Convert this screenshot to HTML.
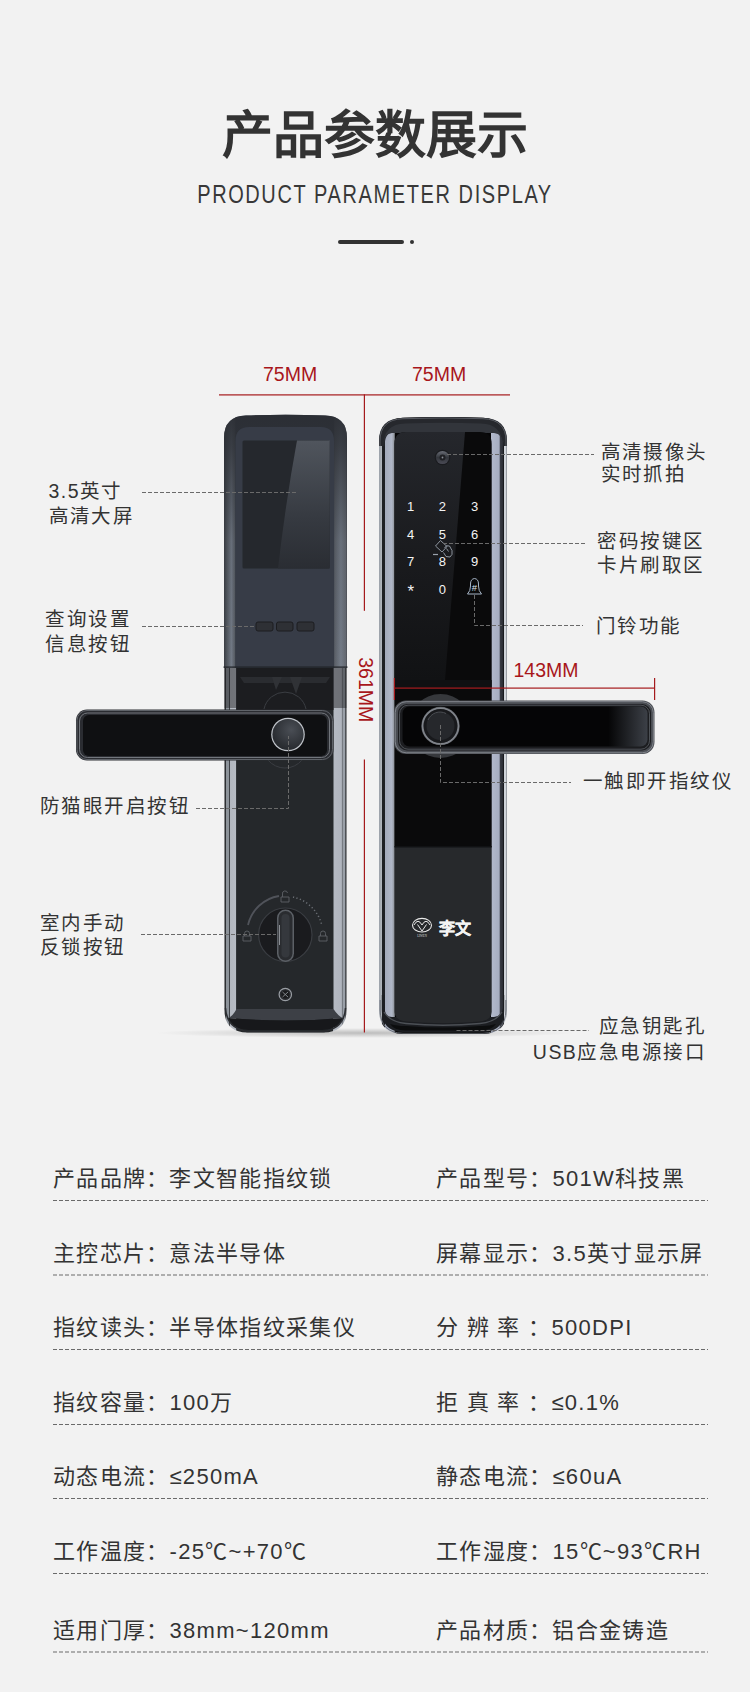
<!DOCTYPE html>
<html lang="zh-CN"><head><meta charset="utf-8">
<style>
html,body{margin:0;padding:0;}
body{width:750px;height:1692px;background:#f2f2f2;position:relative;overflow:hidden;font-family:"Liberation Sans",sans-serif;color:#333;}
.a{position:absolute;white-space:nowrap;line-height:1;}
.title{left:0;width:750px;top:111px;text-align:center;font-family:"Liberation Serif",serif;font-weight:bold;font-size:51px;color:#333;}
.sub{left:0;width:750px;top:181.5px;text-align:center;font-size:25px;letter-spacing:2px;color:#383838;transform:scaleX(0.80);}
.dim{font-size:19.5px;color:#a8161b;letter-spacing:0px;}
.key{font-size:13px;color:#f4f4f4;text-align:center;width:20px;}
svg{position:absolute;left:0;top:0;}

.lab{font-size:19.5px;letter-spacing:1.45px;line-height:1;color:#333;}
.row{font-size:22px;letter-spacing:1.3px;line-height:1;color:#333;}

</style></head><body>
<div class="a title">产品参数展示</div>
<div class="a sub">PRODUCT PARAMETER DISPLAY</div>
<svg width="750" height="1692" viewBox="0 0 750 1692">
<defs>
  <linearGradient id="lUp" gradientUnits="userSpaceOnUse" x1="224" x2="347" y1="0" y2="0">
    <stop offset="0" stop-color="#3a3d43"/>
    <stop offset="0.02" stop-color="#4e535a"/>
    <stop offset="0.06" stop-color="#727a86"/>
    <stop offset="0.09" stop-color="#555a61"/>
    <stop offset="0.095" stop-color="#373c47"/>
    <stop offset="0.89" stop-color="#373c47"/>
    <stop offset="0.9" stop-color="#5b6068"/>
    <stop offset="0.95" stop-color="#747c88"/>
    <stop offset="0.99" stop-color="#656a72"/>
    <stop offset="1" stop-color="#4a4d53"/>
  </linearGradient>
  <linearGradient id="lUpTop" x1="0" x2="0" y1="0" y2="1">
    <stop offset="0" stop-color="#2b2e34" stop-opacity="0.95"/>
    <stop offset="0.12" stop-color="#2b2e34" stop-opacity="0.8"/>
    <stop offset="0.5" stop-color="#2b2e34" stop-opacity="0.15"/>
    <stop offset="1" stop-color="#2b2e34" stop-opacity="0"/>
  </linearGradient>
  <linearGradient id="scrRefl" x1="0" x2="0" y1="0" y2="1">
    <stop offset="0" stop-color="#50555d"/>
    <stop offset="0.6" stop-color="#363a41"/>
    <stop offset="1" stop-color="#2a2d33"/>
  </linearGradient>
  <linearGradient id="lLow" gradientUnits="userSpaceOnUse" x1="224" x2="347" y1="0" y2="0">
    <stop offset="0" stop-color="#2a2c30"/>
    <stop offset="0.01" stop-color="#111214"/>
    <stop offset="0.02" stop-color="#8d939a"/>
    <stop offset="0.04" stop-color="#8d939a"/>
    <stop offset="0.045" stop-color="#3a3d42"/>
    <stop offset="0.05" stop-color="#b2b7bf"/>
    <stop offset="0.1" stop-color="#b7bcc4"/>
    <stop offset="0.102" stop-color="#25282b"/>
    <stop offset="0.886" stop-color="#25282b"/>
    <stop offset="0.89" stop-color="#b5bac3"/>
    <stop offset="0.955" stop-color="#b0b5be"/>
    <stop offset="0.96" stop-color="#2a2c30"/>
    <stop offset="0.965" stop-color="#9aa0a8"/>
    <stop offset="0.985" stop-color="#9aa0a8"/>
    <stop offset="0.99" stop-color="#111214"/>
    <stop offset="1" stop-color="#3a3d42"/>
  </linearGradient>
  <linearGradient id="rBody" gradientUnits="userSpaceOnUse" x1="379" x2="507" y1="0" y2="0">
    <stop offset="0" stop-color="#9aa0a8"/>
    <stop offset="0.02" stop-color="#b0b5bc"/>
    <stop offset="0.025" stop-color="#1e2024"/>
    <stop offset="0.047" stop-color="#1e2024"/>
    <stop offset="0.05" stop-color="#a3aabb"/>
    <stop offset="0.1" stop-color="#b0b7c7"/>
    <stop offset="0.12" stop-color="#8e939a"/>
    <stop offset="0.125" stop-color="#050506"/>
    <stop offset="0.875" stop-color="#050506"/>
    <stop offset="0.877" stop-color="#b2b9cb"/>
    <stop offset="0.94" stop-color="#a6adc0"/>
    <stop offset="0.945" stop-color="#3a3d45"/>
    <stop offset="0.97" stop-color="#2a2c33"/>
    <stop offset="0.975" stop-color="#0b0c0d"/>
    <stop offset="0.98" stop-color="#d0d4da"/>
    <stop offset="0.992" stop-color="#d0d4da"/>
    <stop offset="1" stop-color="#6a6e75"/>
  </linearGradient>
  <linearGradient id="handleRim" x1="0" x2="0" y1="0" y2="1">
    <stop offset="0" stop-color="#7d8188"/>
    <stop offset="0.12" stop-color="#45484e"/>
    <stop offset="0.88" stop-color="#3a3d42"/>
    <stop offset="1" stop-color="#6d7178"/>
  </linearGradient>
  <linearGradient id="hInnerR" x1="0" x2="1" y1="0" y2="0">
    <stop offset="0" stop-color="#050506"/>
    <stop offset="0.84" stop-color="#050506"/>
    <stop offset="1" stop-color="#3c4047"/>
  </linearGradient>
  <radialGradient id="knobL" cx="0.6" cy="0.35" r="0.8">
    <stop offset="0" stop-color="#4a4e55"/>
    <stop offset="1" stop-color="#1f2226"/>
  </radialGradient>
  <radialGradient id="shadow" cx="0.5" cy="0.5" r="0.5">
    <stop offset="0" stop-color="#000" stop-opacity="0.22"/>
    <stop offset="1" stop-color="#000" stop-opacity="0"/>
  </radialGradient>
  <linearGradient id="glassL" x1="0" x2="0" y1="0" y2="1">
    <stop offset="0" stop-color="#25272c"/>
    <stop offset="0.5" stop-color="#1a1b1e"/>
    <stop offset="1" stop-color="#111214"/>
  </linearGradient>
  <linearGradient id="camG" x1="0" x2="0" y1="0" y2="1">
    <stop offset="0" stop-color="#6a6e77"/>
    <stop offset="0.5" stop-color="#34373d"/>
    <stop offset="1" stop-color="#4a4a55"/>
  </linearGradient>
</defs>
  <rect x="338" y="240" width="66" height="4" rx="2" fill="#333"/>
  <circle cx="412" cy="242" r="2" fill="#333"/>

  <!-- floor shadow -->
  <ellipse cx="365" cy="1033" rx="210" ry="5" fill="url(#shadow)"/>

  <!-- ============ LEFT LOCK ============ -->
  <path d="M224,668 L224,438 Q224,416 246,415.5 Q285.5,414 325,415.5 Q347,416 347,438 L347,668 Z" fill="url(#lUp)"/>
  <path d="M224,668 L224,438 Q224,416 246,415.5 Q285.5,414 325,415.5 Q347,416 347,438 L347,668 Z" fill="url(#lUpTop)"/>
  <path d="M235.5,668 L235.5,441 Q235.5,427 249,427 L321,427 Q334,427 334,441 L334,668 Z" fill="#373c47"/>
  <!-- screen -->
  <rect x="242.5" y="440.5" width="87.2" height="128" rx="1.5" fill="#25282d"/>
  <path d="M297,440.5 L329.7,440.5 L329.7,568.5 L278,568.5 Q286,500 297,440.5 Z" fill="url(#scrRefl)"/>
  <!-- buttons -->
  <rect x="256" y="622" width="17" height="9" rx="2" fill="#2e3035" stroke="#1c1d20" stroke-width="1"/>
  <rect x="276.5" y="622" width="16.5" height="9" rx="2" fill="#2e3035" stroke="#1c1d20" stroke-width="1"/>
  <rect x="297" y="622" width="17" height="9" rx="2" fill="#2e3035" stroke="#1c1d20" stroke-width="1"/>
  <rect x="223.5" y="666.5" width="124" height="1.2" fill="#1f2125"/>
  <!-- lower body -->
  <path d="M224.5,668 L346.5,668 L346.5,1010 Q346.5,1032 324,1032.5 L247,1032.5 Q224.5,1032 224.5,1010 Z" fill="url(#lLow)"/>
  <rect x="236.5" y="668" width="97" height="341" fill="#25282b"/>
  <!-- bottom bevel -->
  <path d="M236.5,1009 L333.5,1009 Q338,1016 343,1018 Q285,1023 228,1018 Q233,1016 236.5,1009 Z" fill="#3d4046"/>
  <path d="M228,1018 Q285,1023 343,1018 Q340,1029 322,1030 L249,1030 Q231,1029 228,1018 Z" fill="#17181b"/>
  <path d="M225.5,1008 Q226.5,1028 247,1031.5 L324,1031.5 Q344.5,1028 345.5,1008" fill="none" stroke="#2a2c30" stroke-width="1.5"/>
  <!-- mechanism top -->
  <rect x="236.5" y="668" width="97" height="42" fill="#1c1d20"/>
  <path d="M240,677 L330,677 L326,683 L244,683 Z" fill="#2a2c30"/>
  <path d="M272,677 L282,677 L276,690 Z M290,677 L302,677 L296,694 Z" fill="#303236"/>
  <path d="M264,709 A21.5,21.5 0 0 1 306,709" fill="none" stroke="#3a3d42" stroke-width="1"/>
  <rect x="224.5" y="668" width="12" height="40" fill="#1c1d20" opacity="0.45"/>
  <rect x="333.5" y="668" width="13" height="40" fill="#1c1d20" opacity="0.45"/>
  <!-- boss arcs below handle -->
  <path d="M268,760 A22,22 0 0 0 302,760" fill="none" stroke="#3a3d42" stroke-width="1"/>
  <!-- handle -->
  <rect x="76" y="709.5" width="257.5" height="51" rx="11" fill="#2a2c31"/>
  <rect x="77" y="710.5" width="255.5" height="49" rx="10" fill="none" stroke="#6d7177" stroke-width="0.8"/>
  <rect x="79.5" y="713" width="250" height="44.5" rx="8" fill="none" stroke="#85898f" stroke-width="0.8"/>
  <rect x="83" y="715" width="244" height="41" rx="6" fill="#0f1012"/>
  <circle cx="288" cy="734.5" r="16.8" fill="#c0c4ca"/>
  <circle cx="288" cy="734.5" r="15.6" fill="url(#knobL)"/>
  <!-- thumb turn -->
  <path d="M248,925 A38,38 0 0 1 279,896" fill="none" stroke="#50535a" stroke-width="1.8"/>
  <path d="M293,897 A38,38 0 0 1 322,926" fill="none" stroke="#6a6e74" stroke-width="1.5" stroke-dasharray="1.2,2.4"/>
  <circle cx="285.3" cy="934.7" r="26.7" fill="#1a1b1e" stroke="#3a3d42" stroke-width="1.2"/>
  <rect x="277" y="909.5" width="17" height="52.5" rx="8.5" fill="#5c6066"/>
  <rect x="278.5" y="911" width="14" height="49.5" rx="7" fill="#2a2c30"/>
  <rect x="281.5" y="914" width="8" height="43.5" rx="4" fill="#35383d"/>
  <path d="M279.5,925 L279.5,945" stroke="#8a8e94" stroke-width="1"/>
  <g fill="none" stroke="#5d6167" stroke-width="0.9">
  <path d="M243,936 h8 v5 h-8 z M244.5,936 v-2.5 a2.5,2.5 0 0 1 5,0 v2.5"/>
  <path d="M319,936 h8 v5 h-8 z M320.5,936 v-2.5 a2.5,2.5 0 0 1 5,0 v2.5"/>
  <path d="M281,897 h8 v5 h-8 z M282.5,897 v-3 a2.5,2.5 0 0 1 5,-1"/>
  </g>
  <!-- screw -->
  <circle cx="285.3" cy="994.5" r="6.2" fill="#2a2c30" stroke="#9a9ea4" stroke-width="1.2"/>
  <circle cx="285.3" cy="994.5" r="4" fill="#1a1b1d"/>
  <path d="M282.5,992 L288,997 M288,992 L282.5,997" stroke="#8a8e94" stroke-width="0.9"/>

  <!-- ============ RIGHT LOCK ============ -->
  <path d="M379,1010 L379,441 Q379,419 403,417.8 Q443,416 483,417.8 Q507,419 507,441 L507,1010 Q507,1033 484,1034 L402,1034 Q379,1033 379,1010 Z" fill="url(#rBody)"/>
  <!-- top cap -->
  <path d="M379,446 L379,441 Q379,418.5 403,417.8 Q443,416 483,417.8 Q507,418.5 507,441 L507,446 L503.5,446 Q503,433 494,433 L392,433 Q385,433 384.5,446 Z" fill="#26282d"/>
  <path d="M380,446 L380,441 Q380,419.5 403,418.7 Q443,417.2 483,418.7 Q506,419.5 506,441 L506,446" fill="none" stroke="#5d6168" stroke-width="0.9"/>
  <path d="M383.5,446 Q383.5,424 405,423.5 Q443,422 481,423.5 Q502.5,424 502.5,446 Q502,433 494,433 L392,433 Q384,433 383.5,446 Z" fill="#32353b"/>
  <!-- glass -->
  <path d="M394.5,847 L394.5,444 Q394.5,432 406,432 L480,432 Q491.7,432 491.7,444 L491.7,847 Z" fill="#0a0a0b"/>
  <path d="M394.5,680 L394.5,444 Q394.5,432 406,432 L465,432 L445,680 Z" fill="url(#glassL)"/>
  <rect x="394.5" y="680" width="97.2" height="9" fill="#0f1012"/>
  <!-- camera -->
  <circle cx="442.5" cy="457.5" r="7.8" fill="#1a1b1f"/>
  <circle cx="442.5" cy="457.5" r="6.6" fill="url(#camG)"/>
  <circle cx="442.5" cy="457.5" r="3" fill="#1f2024"/>
  <circle cx="442.5" cy="457.5" r="0.9" fill="#8a8e96"/>
  <!-- card icon -->
  <g fill="none" stroke="#9aa2ac" stroke-width="0.9" stroke-linejoin="round" transform="translate(0,2)">
    <path d="M435.5,544 L440.5,538.5 L447,544.5 L442,550 Z"/>
    <path d="M444.5,546 Q446,542.5 449.5,544 L452,548.5 Q453,553 450,555 L446,554.5 L443.5,550.5"/>
    <path d="M446.5,546.5 l2,3"/>
  </g>
  <path d="M433,554.5 h5" stroke="#9aa2ac" stroke-width="1.2"/>
  <!-- bell -->
  <g fill="none" stroke="#a6b4c6" stroke-width="1">
  <path d="M467.5,594 Q470.5,591 470.5,586 L470.5,584 Q470.5,579 474.5,578.5 Q478.5,579 478.5,584 L478.5,586 Q478.5,591 481.5,594 Z"/>
  </g>
  <text x="474.5" y="591" font-size="9.5" fill="#dfe6ee" text-anchor="middle" font-family="Liberation Sans">#</text>
  <!-- lower panel -->
  <path d="M381.8,995 L381.8,1010 Q381.8,1031.5 403,1032 L483,1032 Q504.2,1031.5 504.2,1010 L504.2,995 L503.5,995 L503.5,1006 Q502,1017 494,1017 L392,1017 Q384,1017 384.8,1006 L384.8,995 Z" fill="#1c1e22"/>
  <path d="M394.5,847 L491.7,847 L491.7,1012 Q491.7,1020 480,1021.5 Q443,1025 406,1021.5 Q394.5,1020 394.5,1012 Z" fill="#27292c"/>
  <rect x="394.5" y="846" width="97.2" height="1.5" fill="#111214"/>
  <path d="M384,1012 Q390,1022 406,1023.5 Q443,1027 480,1023.5 Q496,1022 502,1012" fill="none" stroke="#4c5056" stroke-width="1.3"/>
  <path d="M390,1024 Q400,1026.5 406,1026 Q443,1029 480,1026 Q488,1026.5 496,1024 Q492,1030 480,1030.5 L406,1030.5 Q394,1030 390,1024 Z" fill="#0c0d0e"/>
  <path d="M380.2,1000 L380.2,1010 Q380.2,1032.8 403,1033.3 L483,1033.3 Q505.8,1032.8 505.8,1010 L505.8,1000" fill="none" stroke="#6a6e76" stroke-width="0.9"/>
  <!-- logo -->
  <g fill="none" stroke="#e8e8e8" stroke-width="1">
    <ellipse cx="422" cy="925.2" rx="9.5" ry="6.8" stroke-width="1.1"/>
    <path d="M414,925 Q418,917.5 422,925 Q426,917.5 430,925" stroke-width="1"/>
    <path d="M417.5,924.5 L422,931 L426.5,924.5" stroke-width="1"/>
  </g>
  <text x="422" y="937" font-size="3" fill="#ddd" text-anchor="middle" font-family="Liberation Serif">LIWEN</text>
  <text x="455" y="933.5" font-size="16" font-weight="bold" fill="#f4f4f4" stroke="#f4f4f4" stroke-width="0.35" text-anchor="middle" font-family="Liberation Sans">李文</text>
  <!-- handle boss -->
  <circle cx="440.5" cy="726" r="32" fill="#36383c"/>
  <!-- handle -->
  <rect x="394" y="700.5" width="260.5" height="53.5" rx="12" fill="#4a4d53"/>
  <rect x="395.2" y="701.7" width="258.1" height="51.1" rx="11" fill="none" stroke="#82868d" stroke-width="1"/>
  <rect x="398" y="704" width="253" height="46.5" rx="9" fill="#1c1d20"/>
  <rect x="399.5" y="705.2" width="250" height="44" rx="8.5" fill="none" stroke="#5a5e64" stroke-width="0.8"/>
  <rect x="402.5" y="706.5" width="245" height="40" rx="7" fill="url(#hInnerR)"/>
  <circle cx="440.5" cy="726" r="19.2" fill="#4a4d52"/>
  <circle cx="440.5" cy="726" r="17.8" fill="none" stroke="#7f838a" stroke-width="2"/>
  <circle cx="440.5" cy="726" r="17" fill="#18191c"/>
  <circle cx="440.5" cy="726" r="14" fill="#26282c"/>
  <path d="M428,720 A13,13 0 0 1 446,713.5" fill="none" stroke="#4a4d52" stroke-width="1"/>

  <!-- ============ DIMENSIONS ============ -->
  <g fill="#a51a1d">
    <rect x="219" y="394.3" width="291" height="1.2"/>
    <rect x="363.8" y="394.3" width="1.2" height="216.5"/>
    <rect x="363.8" y="759.5" width="1.2" height="273"/>
    <rect x="394" y="687.5" width="261" height="1.2"/>
    <rect x="393.8" y="678" width="1.2" height="22"/>
    <rect x="654" y="678" width="1.2" height="22"/>
  </g>
</svg>
<div class="a dim" style="left:263px;top:365px;">75MM</div>
<div class="a dim" style="left:412px;top:365px;">75MM</div>
<div class="a dim" style="left:513.5px;top:661px;">143MM</div>
<div class="a dim" style="left:332.5px;top:680px;transform:rotate(90deg);transform-origin:center;">361MM</div>
<div class="a key" style="left:400.7px;top:500px;">1</div>
<div class="a key" style="left:432.3px;top:500px;">2</div>
<div class="a key" style="left:464.6px;top:500px;">3</div>
<div class="a key" style="left:400.7px;top:527.5px;">4</div>
<div class="a key" style="left:432.3px;top:527.5px;">5</div>
<div class="a key" style="left:464.6px;top:527.5px;">6</div>
<div class="a key" style="left:400.7px;top:555px;">7</div>
<div class="a key" style="left:432.3px;top:555px;">8</div>
<div class="a key" style="left:464.6px;top:555px;">9</div>
<div class="a key" style="left:400.7px;top:583px;font-size:17px;">*</div>
<div class="a key" style="left:432.3px;top:582.5px;">0</div>
<svg width="750" height="1692" viewBox="0 0 750 1692">
<g stroke="#6a6a6a" stroke-width="1" stroke-dasharray="4,2" fill="none">
<line x1="53" y1="1200.5" x2="708" y2="1200.5"/>
<line x1="53" y1="1275" x2="708" y2="1275"/>
<line x1="53" y1="1349.5" x2="708" y2="1349.5"/>
<line x1="53" y1="1424.5" x2="708" y2="1424.5"/>
<line x1="53" y1="1498.5" x2="708" y2="1498.5"/>
<line x1="53" y1="1573.5" x2="708" y2="1573.5"/>
<line x1="53" y1="1652" x2="708" y2="1652"/>
<path d="M142,492.5 H298"/>
<path d="M142,626.5 H256"/>
<path d="M196,808.5 H288.5 V736"/>
<path d="M141,934.5 H276"/>
<path d="M447,454.5 H594"/>
<path d="M443,543.5 H585"/>
<path d="M474.5,595 V625.5 H583"/>
<path d="M440.5,725 V782.5 H571"/>
<path d="M456.5,1030.5 H589"/>
</g>
</svg>
<div class="a lab" style="left:48.5px;top:481.6px;">3.5英寸</div>
<div class="a lab" style="left:48.5px;top:506.8px;">高清大屏</div>
<div class="a lab" style="left:45.2px;top:609.5px;">查询设置</div>
<div class="a lab" style="left:45.2px;top:634.5px;">信息按钮</div>
<div class="a lab" style="left:40px;top:796.8px;">防猫眼开启按钮</div>
<div class="a lab" style="left:40px;top:914px;">室内手动</div>
<div class="a lab" style="left:40px;top:938px;">反锁按钮</div>
<div class="a lab" style="left:600.5px;top:443.2px;">高清摄像头</div>
<div class="a lab" style="left:600.5px;top:465px;">实时抓拍</div>
<div class="a lab" style="left:597.3px;top:531.8px;">密码按键区</div>
<div class="a lab" style="left:597.3px;top:556.4px;">卡片刷取区</div>
<div class="a lab" style="left:596px;top:617px;">门铃功能</div>
<div class="a lab" style="left:583px;top:772px;">一触即开指纹仪</div>
<div class="a lab" style="right:44px;top:1017px;">应急钥匙孔</div>
<div class="a lab" style="right:44px;top:1043px;">USB应急电源接口</div>
<div class="a row" style="left:53px;top:1168px;">产品品牌：李文智能指纹锁</div>
<div class="a row" style="left:436px;top:1168px;">产品型号：501W科技黑</div>
<div class="a row" style="left:53px;top:1243px;">主控芯片：意法半导体</div>
<div class="a row" style="left:436px;top:1243px;">屏幕显示：3.5英寸显示屏</div>
<div class="a row" style="left:53px;top:1317px;">指纹读头：半导体指纹采集仪</div>
<div class="a row" style="left:436px;top:1317px;">分 辨 率 ：500DPI</div>
<div class="a row" style="left:53px;top:1392px;">指纹容量：100万</div>
<div class="a row" style="left:436px;top:1392px;">拒 真 率 ：≤0.1%</div>
<div class="a row" style="left:53px;top:1466px;">动态电流：≤250mA</div>
<div class="a row" style="left:436px;top:1466px;">静态电流：≤60uA</div>
<div class="a row" style="left:53px;top:1541px;">工作温度：-25℃~+70℃</div>
<div class="a row" style="left:436px;top:1541px;">工作湿度：15℃~93℃RH</div>
<div class="a row" style="left:53px;top:1620px;">适用门厚：38mm~120mm</div>
<div class="a row" style="left:436px;top:1620px;">产品材质：铝合金铸造</div>
</body></html>
